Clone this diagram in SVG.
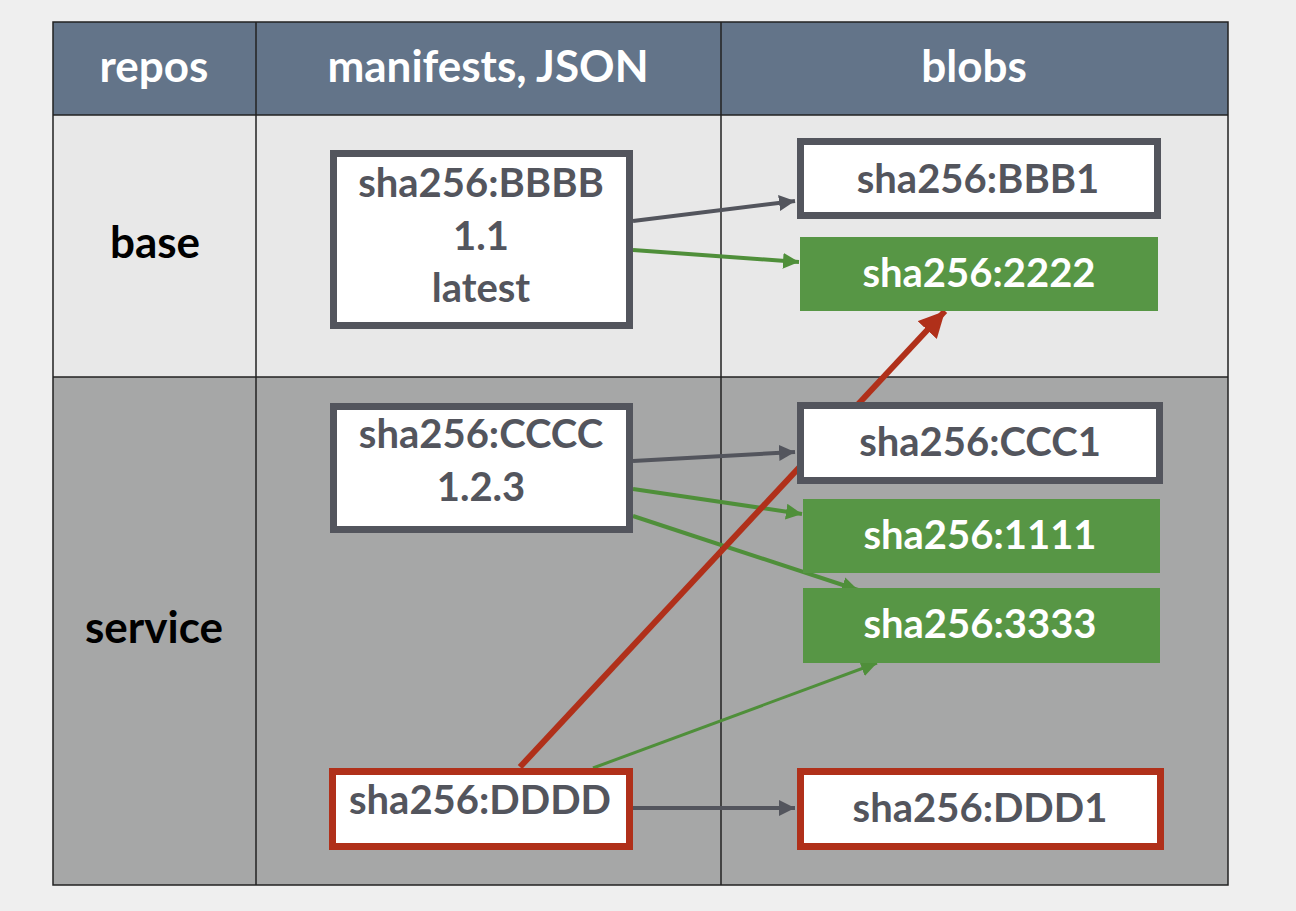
<svg xmlns="http://www.w3.org/2000/svg" width="1296" height="911" viewBox="0 0 1296 911">
<defs>
<style>
.t{font-family:Lato,"Noto Sans",sans-serif;font-weight:bold;font-size:40px;text-anchor:middle}
.hd{fill:#ffffff;font-size:44px}
.row{fill:#000000;font-size:44px}
.dk{fill:#53555d}
.wh{fill:#ffffff}
.box{fill:#ffffff;stroke:#53555d;stroke-width:7}
.red{fill:#ffffff;stroke:#b0301a;stroke-width:7}
.grn{fill:#579645}
.ln{fill:none}
.g{stroke:#53555d;stroke-width:4}
.gr{stroke:#4f8f3a;stroke-width:4}
.r{stroke:#b0301a;stroke-width:6}
.grid{stroke:#222222;stroke-width:1.5;fill:none}
</style>
<marker id="ag" markerUnits="userSpaceOnUse" markerWidth="20" markerHeight="16" refX="16" refY="8" orient="auto"><path d="M0,0 L16,8 L0,16 Z" fill="#53555d"/></marker>
<marker id="agr" markerUnits="userSpaceOnUse" markerWidth="20" markerHeight="16" refX="16" refY="8" orient="auto"><path d="M0,0 L16,8 L0,16 Z" fill="#4f8f3a"/></marker>
<marker id="ar" markerUnits="userSpaceOnUse" markerWidth="30" markerHeight="26" refX="26" refY="13" orient="auto"><path d="M0,0 L26,13 L0,26 Z" fill="#b0301a"/></marker>
</defs>
<rect width="1296" height="911" fill="#efefef"/>
<g id="table">
<rect x="53" y="22" width="1175" height="93" fill="#637489"/>
<rect x="53" y="115" width="1175" height="262" fill="#e8e8e8"/>
<rect x="53" y="377" width="1175" height="508" fill="#a6a7a7"/>
<rect x="53" y="22" width="1175" height="863" class="grid"/>
<line x1="256" y1="22" x2="256" y2="885" class="grid"/>
<line x1="721" y1="22" x2="721" y2="885" class="grid"/>
<line x1="53" y1="115" x2="1228" y2="115" class="grid"/>
<line x1="53" y1="377" x2="1228" y2="377" class="grid"/>
<text x="154" y="82" class="t hd">repos</text>
<text x="488" y="82" class="t hd">manifests, JSON</text>
<text x="974" y="82" class="t hd">blobs</text>
<text x="155" y="258" class="t row">base</text>
<text x="154" y="643" class="t row">service</text>
</g>
<g id="connectors">
<line x1="633" y1="221" x2="795" y2="201" class="ln g" marker-end="url(#ag)"/>
<line x1="633" y1="250" x2="799" y2="262" class="ln gr" marker-end="url(#agr)"/>
<line x1="633" y1="461" x2="795" y2="452" class="ln g" marker-end="url(#ag)"/>
<line x1="633" y1="489" x2="802" y2="514" class="ln gr" marker-end="url(#agr)"/>
<line x1="633" y1="516" x2="858" y2="590" class="ln gr" marker-end="url(#agr)"/>
<line x1="593" y1="768" x2="877" y2="663" class="ln gr" style="stroke-width:3" marker-end="url(#agr)"/>
<line x1="633" y1="808" x2="795" y2="808" class="ln g" marker-end="url(#ag)"/>
<line x1="520" y1="767" x2="945" y2="311" class="ln r" marker-end="url(#ar)"/>
</g>
<g id="n-bbbb"><rect x="333.5" y="153.5" width="296" height="172" class="box"/>
<text x="481" y="197" class="t dk">sha256:BBBB</text>
<text x="481" y="250" class="t dk">1.1</text>
<text x="481" y="302" class="t dk">latest</text></g>
<g id="n-bbb1"><rect x="800.5" y="141.5" width="357" height="74" class="box"/>
<text x="978" y="193" class="t dk">sha256:BBB1</text></g>
<g id="n-2222"><rect x="800" y="237" width="358" height="74" class="grn"/>
<text x="979" y="287" class="t wh">sha256:2222</text></g>
<g id="n-cccc"><rect x="333.5" y="406.5" width="296" height="123" class="box"/>
<text x="481" y="448" class="t dk">sha256:CCCC</text>
<text x="481" y="501" class="t dk">1.2.3</text></g>
<g id="n-ccc1"><rect x="800.5" y="405.5" width="359" height="75" class="box"/>
<text x="980" y="456" class="t dk">sha256:CCC1</text></g>
<g id="n-1111"><rect x="803" y="499" width="357" height="74" class="grn"/>
<text x="980" y="549" class="t wh">sha256:1111</text></g>
<g id="n-3333"><rect x="803" y="588" width="357" height="75" class="grn"/>
<text x="980" y="638" class="t wh">sha256:3333</text></g>
<g id="n-dddd"><rect x="332.5" y="771.5" width="297" height="75" class="red"/>
<text x="480" y="814" class="t dk">sha256:DDDD</text></g>
<g id="n-ddd1"><rect x="800.5" y="771.5" width="360" height="75" class="red"/>
<text x="980" y="822" class="t dk">sha256:DDD1</text></g>
</svg>
